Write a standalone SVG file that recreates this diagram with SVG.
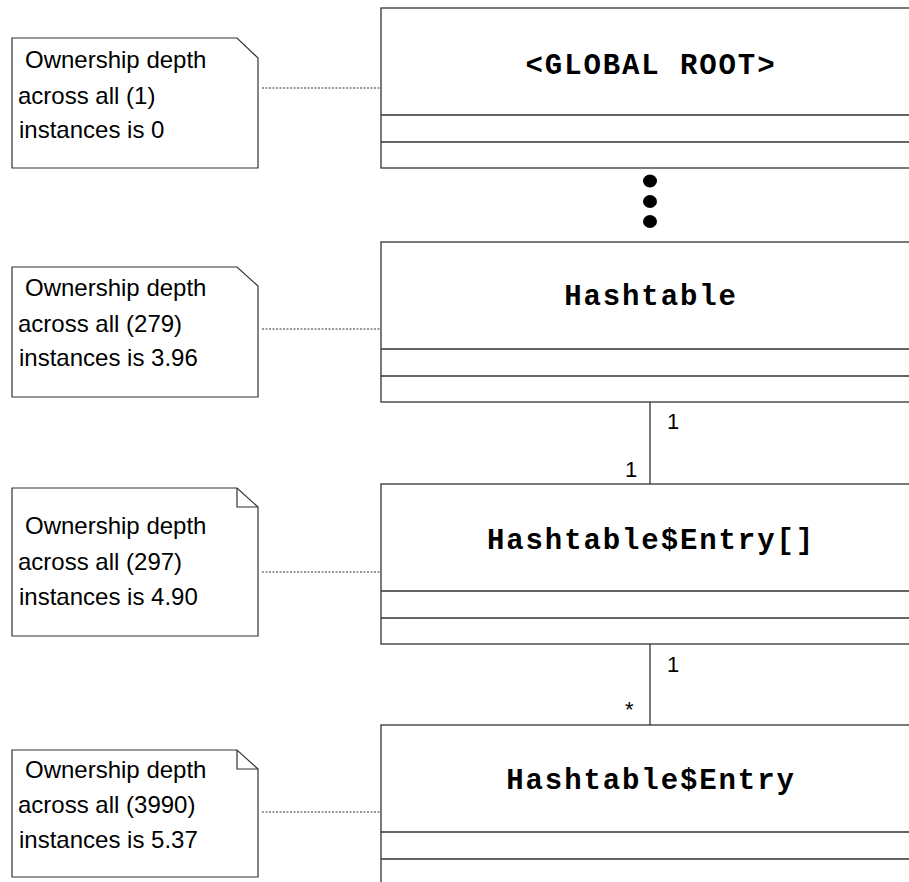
<svg xmlns="http://www.w3.org/2000/svg" width="909" height="882" viewBox="0 0 909 882">
<style>
.box{fill:#fff;stroke:#333;stroke-width:1.3}
.div{stroke:#333;stroke-width:1.3}
.note{fill:#fff;stroke:#333;stroke-width:1.2}
.fold{fill:none;stroke:#333;stroke-width:1.2}
.title{font-family:"Liberation Mono",monospace;font-weight:bold;font-size:29px;letter-spacing:1.9px;text-anchor:middle;fill:#000}
.ntext{font-family:"Liberation Sans",Arial,sans-serif;font-size:24px;fill:#000}
.mult{font-family:"Liberation Sans",Arial,sans-serif;font-size:22px;fill:#000}
.dotted{stroke:#333;stroke-width:1.2;stroke-dasharray:2 1.5;fill:none}
.solid{stroke:#333;stroke-width:1.3;fill:none}
</style>
<rect width="909" height="882" fill="#fff"/>
<g id="connectors">
<line class="dotted" x1="262" y1="88" x2="381" y2="88"/>
<line class="dotted" x1="262" y1="329" x2="381" y2="329"/>
<line class="dotted" x1="262" y1="572" x2="381" y2="572"/>
<line class="dotted" x1="262" y1="812" x2="381" y2="812"/>
<line class="solid" x1="650" y1="402" x2="650" y2="484"/>
<line class="solid" x1="650" y1="644" x2="650" y2="725"/>
<text class="mult" x="667" y="429">1</text>
<text class="mult" x="625" y="477">1</text>
<text class="mult" x="667" y="672">1</text>
<text class="mult" x="625" y="717">*</text>
<g id="ellipsis" fill="#000">
<ellipse cx="650" cy="181" rx="7" ry="6.5"/>
<ellipse cx="650" cy="201.5" rx="7" ry="6.5"/>
<ellipse cx="650" cy="221.5" rx="7" ry="6.5"/>
</g>
</g>
<g id="global-root">
<rect class="box" x="381" y="8" width="540" height="160"/>
<line class="div" x1="381" y1="115" x2="921" y2="115"/>
<line class="div" x1="381" y1="142" x2="921" y2="142"/>
<text class="title" x="651" y="74">&lt;GLOBAL ROOT&gt;</text>
</g>
<g id="hashtable">
<rect class="box" x="381" y="242" width="540" height="160"/>
<line class="div" x1="381" y1="349" x2="921" y2="349"/>
<line class="div" x1="381" y1="376" x2="921" y2="376"/>
<text class="title" x="651" y="305">Hashtable</text>
</g>
<g id="hashtable-entry-array">
<rect class="box" x="381" y="484" width="540" height="160"/>
<line class="div" x1="381" y1="591" x2="921" y2="591"/>
<line class="div" x1="381" y1="618" x2="921" y2="618"/>
<text class="title" x="651" y="549">Hashtable$Entry[]</text>
</g>
<g id="hashtable-entry">
<rect class="box" x="381" y="725" width="540" height="170"/>
<line class="div" x1="381" y1="832" x2="921" y2="832"/>
<line class="div" x1="381" y1="859" x2="921" y2="859"/>
<text class="title" x="651" y="789">Hashtable$Entry</text>
</g>
<g id="note1">
<path class="note" d="M12,38 H237 L258,58 V168 H12 Z"/>
<text class="ntext" x="25" y="68">Ownership depth</text>
<text class="ntext" x="18" y="104">across all (1)</text>
<text class="ntext" x="19" y="138">instances is 0</text>
</g>
<g id="note2">
<path class="note" d="M12,267 H237 L258,286 V397 H12 Z"/>
<text class="ntext" x="25" y="296">Ownership depth</text>
<text class="ntext" x="18" y="332">across all (279)</text>
<text class="ntext" x="19" y="366">instances is 3.96</text>
</g>
<g id="note3">
<path class="note" d="M12,488 H237 L258,507 V636 H12 Z"/>
<path class="fold" d="M237,488 V507 H258"/>
<text class="ntext" x="25" y="534">Ownership depth</text>
<text class="ntext" x="18" y="570">across all (297)</text>
<text class="ntext" x="19" y="605">instances is 4.90</text>
</g>
<g id="note4">
<path class="note" d="M12,750 H237 L258,769 V877 H12 Z"/>
<path class="fold" d="M237,750 V769 H258"/>
<text class="ntext" x="25" y="778">Ownership depth</text>
<text class="ntext" x="18" y="813">across all (3990)</text>
<text class="ntext" x="19" y="848">instances is 5.37</text>
</g>
</svg>
